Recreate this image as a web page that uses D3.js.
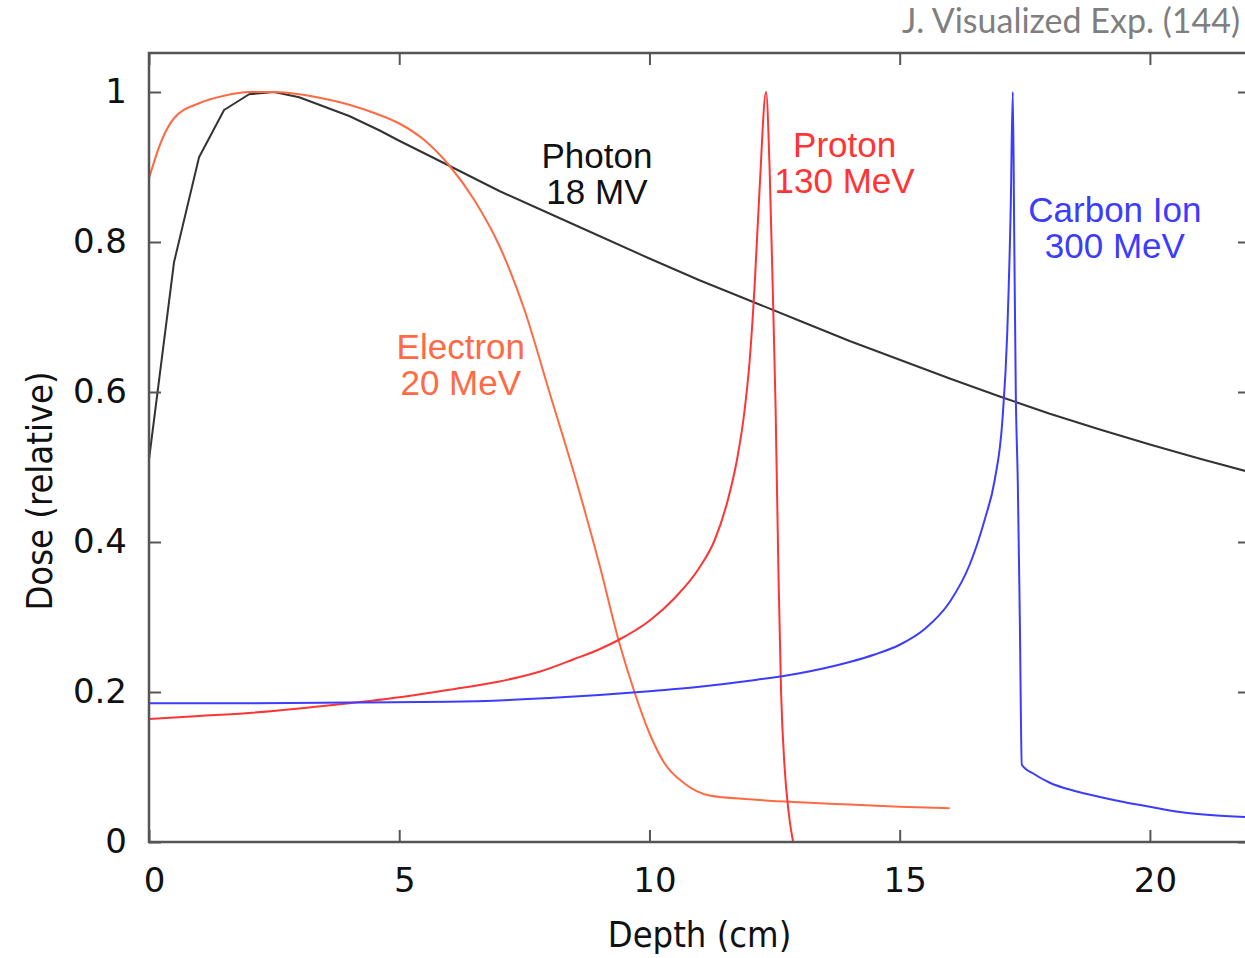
<!DOCTYPE html>
<html>
<head>
<meta charset="utf-8">
<script src="https://cdn.jsdelivr.net/npm/d3@7"></script>
<style>
  body { margin: 0; background: #fff; }
  svg { display: block; }
</style>
</head>
<body>
<svg id="chart" width="1245" height="958"></svg>
<script>
// depth (cm) / relative dose
const photonDepth = [0, 0.5, 1, 1.5, 2, 2.5, 3, 4, 4.6, 5, 5.9, 7, 8, 8.6, 9, 10, 11, 12, 13, 14, 15, 16, 17, 18, 19, 20, 21, 22];
const photonDose  = [0.51, 0.773, 0.913, 0.976, 0.997, 1.0, 0.993, 0.968, 0.949, 0.935, 0.905, 0.868, 0.838, 0.82, 0.808, 0.778, 0.749, 0.722, 0.695, 0.668, 0.643, 0.618, 0.594, 0.571, 0.55, 0.53, 0.511, 0.493];

const electronDepth = [0, 0.25, 0.5, 1, 1.5, 2, 2.5, 3, 3.5, 4, 4.5, 5, 5.5, 6, 6.5, 7, 7.5, 8, 8.5, 9, 9.4, 9.7, 10, 10.3, 10.7, 11.2, 12, 13, 14, 15, 16];
const electronDose  = [0.885, 0.935, 0.965, 0.985, 0.995, 1.0, 1.0, 0.997, 0.991, 0.983, 0.972, 0.958, 0.936, 0.902, 0.856, 0.795, 0.71, 0.6, 0.49, 0.37, 0.265, 0.2, 0.145, 0.105, 0.078, 0.062, 0.057, 0.053, 0.05, 0.047, 0.045];

const protonDepth = [0, 1, 2, 3, 4, 5, 6, 7, 7.8, 8.5, 9, 9.4, 10, 10.5, 11, 11.3, 11.55, 11.75, 11.9, 12.0, 12.1, 12.2, 12.33, 12.4, 12.47, 12.52, 12.58, 12.63, 12.7, 12.78, 12.87];
const protonDose  = [0.164, 0.168, 0.172, 0.178, 0.185, 0.193, 0.203, 0.214, 0.227, 0.244, 0.257, 0.27, 0.295, 0.325, 0.366, 0.402, 0.452, 0.51, 0.575, 0.64, 0.74, 0.87, 1.0, 0.9, 0.72, 0.58, 0.35, 0.2, 0.1, 0.04, 0.0];

const carbonDepth = [0, 2, 4, 6, 8, 10, 11, 12, 13, 14, 14.5, 15, 15.5, 16, 16.4, 16.7, 16.9, 17.05, 17.15, 17.22, 17.26, 17.29, 17.32, 17.36, 17.4, 17.44, 17.7, 18, 18.5, 19, 19.5, 20, 20.6, 21.2, 22];
const carbonDose  = [0.185, 0.185, 0.186, 0.187, 0.192, 0.201, 0.207, 0.215, 0.225, 0.24, 0.25, 0.263, 0.284, 0.32, 0.37, 0.43, 0.483, 0.56, 0.68, 0.85, 1.0, 0.8, 0.6, 0.48, 0.3, 0.103, 0.09, 0.079, 0.068, 0.06, 0.053, 0.047, 0.04, 0.036, 0.033];

const xTicks = [0, 5, 10, 15, 20];
const yTicks = [0, 0.2, 0.4, 0.6, 0.8, 1];

const series = [
    { name: "Photon",   energy: "18 MV",   depth: photonDepth,   dose: photonDose,   color: "#333333", curve: d3.curveLinear,     lx: 8.95, ly: 0.899 },
    { name: "Electron", energy: "20 MeV",  depth: electronDepth, dose: electronDose, color: "#ff6a45", curve: d3.curveMonotoneX, lx: 6.23, ly: 0.644 },
    { name: "Proton",   energy: "130 MeV", depth: protonDepth,   dose: protonDose,   color: "#ff3434", curve: d3.curveMonotoneX, lx: 13.9, ly: 0.913 },
    { name: "Carbon Ion", energy: "300 MeV", depth: carbonDepth, dose: carbonDose,   color: "#3c3cff", curve: d3.curveMonotoneX, lx: 19.3, ly: 0.827 }
];

const svg = d3.select("#chart");
const pLeft = 149, pRight = 1250, pTop = 53, pBottom = 842;

const x = d3.scaleLinear().domain([0, 22]).range([pLeft, pRight]);
const y = d3.scaleLinear().domain([0, 1.052]).range([pBottom, pTop]);

svg.append("defs").append("clipPath").attr("id", "plot")
    .append("rect")
    .attr("x", pLeft).attr("y", pTop)
    .attr("width", pRight - pLeft).attr("height", pBottom - pTop);

// curves
const lines = svg.append("g").attr("clip-path", "url(#plot)");
series.forEach(s => {
    const pts = s.depth.map((d, i) => [d, s.dose[i]]);
    const line = d3.line()
        .x(d => x(d[0]))
        .y(d => y(d[1]))
        .curve(s.curve);
    lines.append("path")
        .attr("d", line(pts))
        .attr("fill", "none")
        .attr("stroke", s.color)
        .attr("stroke-width", 2)
        .attr("stroke-linejoin", "round");
});

// frame with inward ticks on every side
const tickLen = 12;
const axisColor = "#555";
const axisFont = "'DejaVu Sans', Verdana, sans-serif";

svg.append("g").attr("transform", `translate(0,${pBottom})`)
    .call(d3.axisBottom(x).tickValues(xTicks).tickSizeInner(-tickLen).tickSizeOuter(0).tickPadding(26))
    .call(g => g.select(".domain").remove())
    .call(g => g.selectAll("line").attr("stroke", axisColor).attr("stroke-width", 2))
    .call(g => g.selectAll("text").attr("font-family", axisFont).attr("font-size", 34).attr("fill", "#111").attr("dx", 5));

svg.append("g").attr("transform", `translate(0,${pTop})`)
    .call(d3.axisTop(x).tickValues(xTicks).tickSizeInner(-tickLen).tickSizeOuter(0).tickFormat(""))
    .call(g => g.select(".domain").remove())
    .call(g => g.selectAll("line").attr("stroke", axisColor).attr("stroke-width", 2));

svg.append("g").attr("transform", `translate(${pLeft},0)`)
    .call(d3.axisLeft(y).tickValues(yTicks).tickSizeInner(-tickLen).tickSizeOuter(0).tickPadding(22)
        .tickFormat(d => d === 0 || d === 1 ? d3.format("d")(d) : d3.format(".1f")(d)))
    .call(g => g.select(".domain").remove())
    .call(g => g.selectAll("line").attr("stroke", axisColor).attr("stroke-width", 2))
    .call(g => g.selectAll("text").attr("font-family", axisFont).attr("font-size", 34).attr("fill", "#111"));

svg.append("g").attr("transform", `translate(${pRight},0)`)
    .call(d3.axisRight(y).tickValues(yTicks).tickSizeInner(-tickLen).tickSizeOuter(0).tickFormat(""))
    .call(g => g.select(".domain").remove())
    .call(g => g.selectAll("line").attr("stroke", axisColor).attr("stroke-width", 2));

svg.append("rect")
    .attr("x", pLeft).attr("y", pTop)
    .attr("width", pRight - pLeft).attr("height", pBottom - pTop)
    .attr("fill", "none").attr("stroke", axisColor).attr("stroke-width", 2.5);

// axis titles
const titleFont = "'DejaVu Sans Condensed', 'DejaVu Sans', sans-serif";
svg.append("text")
    .attr("x", (pLeft + pRight) / 2).attr("y", 947)
    .attr("text-anchor", "middle")
    .attr("font-family", titleFont).attr("font-size", 36)
    .attr("fill", "#111")
    .text("Depth (cm)");

svg.append("text")
    .attr("transform", "translate(52,491) rotate(-90)")
    .attr("text-anchor", "middle")
    .attr("font-family", titleFont).attr("font-size", 36)
    .attr("fill", "#111")
    .text("Dose (relative)");

// curve labels
const labels = svg.append("g")
    .attr("font-family", "'Liberation Sans', Arial, sans-serif")
    .attr("font-size", 35)
    .attr("text-anchor", "middle");
series.forEach(s => {
    const t = labels.append("text")
        .attr("x", x(s.lx)).attr("y", y(s.ly))
        .attr("fill", s.color === "#333333" ? "#111" : s.color);
    t.append("tspan").attr("x", x(s.lx)).text(s.name);
    t.append("tspan").attr("x", x(s.lx)).attr("dy", 36).text(s.energy);
});

// source note
svg.append("text")
    .attr("x", 1240).attr("y", 33)
    .attr("text-anchor", "end")
    .attr("font-family", "Lato, 'Open Sans', sans-serif")
    .attr("font-size", 34)
    .attr("fill", "#7f7f7f")
    .text("J. Visualized Exp. (144)");
</script>
</body>
</html>
